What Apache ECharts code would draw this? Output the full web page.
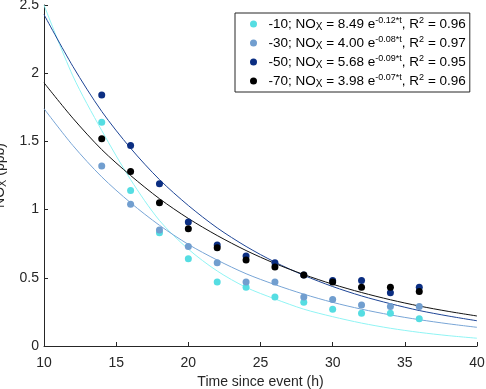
<!DOCTYPE html>
<html>
<head>
<meta charset="utf-8">
<script src="https://cdn.jsdelivr.net/npm/echarts@6/dist/echarts.min.js"></script>
<style>
  html, body { margin: 0; padding: 0; background: #fff; }
  #chart { width: 486px; height: 389px; }
</style>
</head>
<body>
<div id="chart"></div>
<script>
// sample times (h) and measured NOx (ppb) per group
const sampleT = [14, 16, 18, 20, 22, 24, 26, 28, 30, 32, 34, 36]
const nox10 = [1.64, 1.14, 0.83, 0.64, 0.47, 0.43, 0.36, 0.32, 0.27, 0.24, 0.24, 0.20]
const nox30 = [1.32, 1.04, 0.85, 0.73, 0.61, 0.47, 0.47, 0.36, 0.34, 0.30, 0.29, 0.29]
const nox50 = [1.84, 1.47, 1.19, 0.91, 0.74, 0.66, 0.61, 0.52, 0.48, 0.48, 0.39, 0.43]
const nox70 = [1.52, 1.28, 1.05, 0.86, 0.72, 0.63, 0.58, 0.52, 0.47, 0.43, 0.43, 0.40]

// fitted curves
const fitT = [10, 12, 14, 16, 18, 20, 22, 24, 26, 28, 30, 32, 34, 36, 38, 40]
const fit10 = [2.50, 1.98, 1.58, 1.22, 0.92, 0.71, 0.55, 0.43, 0.345, 0.27, 0.215, 0.168, 0.13, 0.10, 0.076, 0.057]
const fit30 = [1.74, 1.47, 1.24, 1.05, 0.885, 0.745, 0.63, 0.53, 0.45, 0.38, 0.32, 0.27, 0.228, 0.193, 0.163, 0.137]
const fit50 = [2.43, 2.05, 1.72, 1.45, 1.22, 1.03, 0.866, 0.73, 0.615, 0.518, 0.436, 0.367, 0.31, 0.26, 0.22, 0.185]
const fit70 = [1.93, 1.67, 1.44, 1.25, 1.08, 0.935, 0.81, 0.70, 0.605, 0.524, 0.453, 0.392, 0.339, 0.293, 0.254, 0.22]

// legend labels
const groups = ['-10', '-30', '-50', '-70']
const fitA = ['8.49', '4.00', '5.68', '3.98']
const fitB = ['-0.12', '-0.08', '-0.09', '-0.07']
const rSq = ['0.96', '0.97', '0.95', '0.96']

const xTicks = [10, 15, 20, 25, 30, 35, 40]

const pointColors = ['#55dde2', '#719ecf', '#0b2e82', '#000000']
const lineColors = ['#90f4f4', '#78a5d6', '#1e4596', '#111111']

const font = '"Liberation Sans", Arial, sans-serif'
const ink = '#262626'

const points = [nox10, nox30, nox50, nox70]
const fits = [fit10, fit30, fit50, fit70]

const chart = echarts.init(document.getElementById('chart'))

const series = []
fits.forEach((f, i) => {
  series.push({
    name: 'fit' + groups[i],
    type: 'line',
    data: fitT.map((t, k) => [t, f[k]]),
    smooth: 0.3,
    symbol: 'none',
    lineStyle: { color: lineColors[i], width: 1 },
    z: 1,
    silent: true
  })
})
points.forEach((p, i) => {
  series.push({
    name: groups[i],
    type: 'scatter',
    data: sampleT.map((t, k) => [t, p[k]]),
    symbol: 'circle',
    symbolSize: 7,
    itemStyle: { color: pointColors[i], opacity: 1 },
    z: 2
  })
})

chart.setOption({
  animation: false,
  textStyle: { fontFamily: font },
  grid: { left: 44, right: 9, top: 5, bottom: 43, containLabel: false, outerBoundsMode: 'none' },
  legend: {
    data: groups,
    orient: 'vertical',
    left: 235,
    top: 13,
    padding: [3, 4, 3, 15],
    itemGap: 3,
    itemWidth: 20,
    itemHeight: 7,
    icon: 'circle',
    backgroundColor: '#fff',
    borderColor: ink,
    borderWidth: 1,
    borderRadius: 0,
    formatter: (name) => {
      const i = groups.indexOf(name)
      return '{t|' + name + '; NO}{sub|X}{t| = ' + fitA[i] + ' e}{sup|' + fitB[i] +
        '*t}{t|, R}{sup|2}{t| = ' + rSq[i] + '}'
    },
    textStyle: {
      color: '#000',
      fontFamily: font,
      rich: {
        t: { fontSize: 13.5, lineHeight: 16, color: '#000', fontFamily: font },
        sup: { fontSize: 9, lineHeight: 9, verticalAlign: 'top', color: '#000', fontFamily: font },
        sub: { fontSize: 10, lineHeight: 10, verticalAlign: 'bottom', color: '#000', fontFamily: font }
      }
    }
  },
  xAxis: {
    type: 'value',
    min: 10,
    max: 40,
    interval: 5,
    name: 'Time since event (h)',
    nameLocation: 'middle',
    nameGap: 27,
    nameTextStyle: { fontSize: 14, color: ink, fontFamily: font },
    axisLine: { show: true, onZero: false, lineStyle: { color: ink, width: 1 } },
    axisTick: { show: true, inside: true, length: 4, lineStyle: { color: ink } },
    axisLabel: {
      fontSize: 14, color: ink, margin: 10, fontFamily: font,
      formatter: (v) => (xTicks.includes(v) ? String(v) : '')
    },
    splitLine: { show: false }
  },
  yAxis: {
    type: 'value',
    min: 0,
    max: 2.5,
    interval: 0.5,
    name: '{t|NO}{sub|X}{t| (ppb)}',
    nameLocation: 'middle',
    nameGap: 22,
    nameTextStyle: {
      color: ink,
      fontFamily: font,
      rich: {
        t: { fontSize: 14, lineHeight: 17, color: ink, fontFamily: font },
        sub: { fontSize: 11, lineHeight: 11, verticalAlign: 'bottom', color: ink, fontFamily: font }
      }
    },
    axisLine: { show: true, onZero: false, lineStyle: { color: ink, width: 1 } },
    axisTick: { show: true, inside: true, length: 4, lineStyle: { color: ink } },
    axisLabel: { fontSize: 14, color: ink, margin: 5, fontFamily: font },
    splitLine: { show: false }
  },
  series: series
})
</script>
</body>
</html>
